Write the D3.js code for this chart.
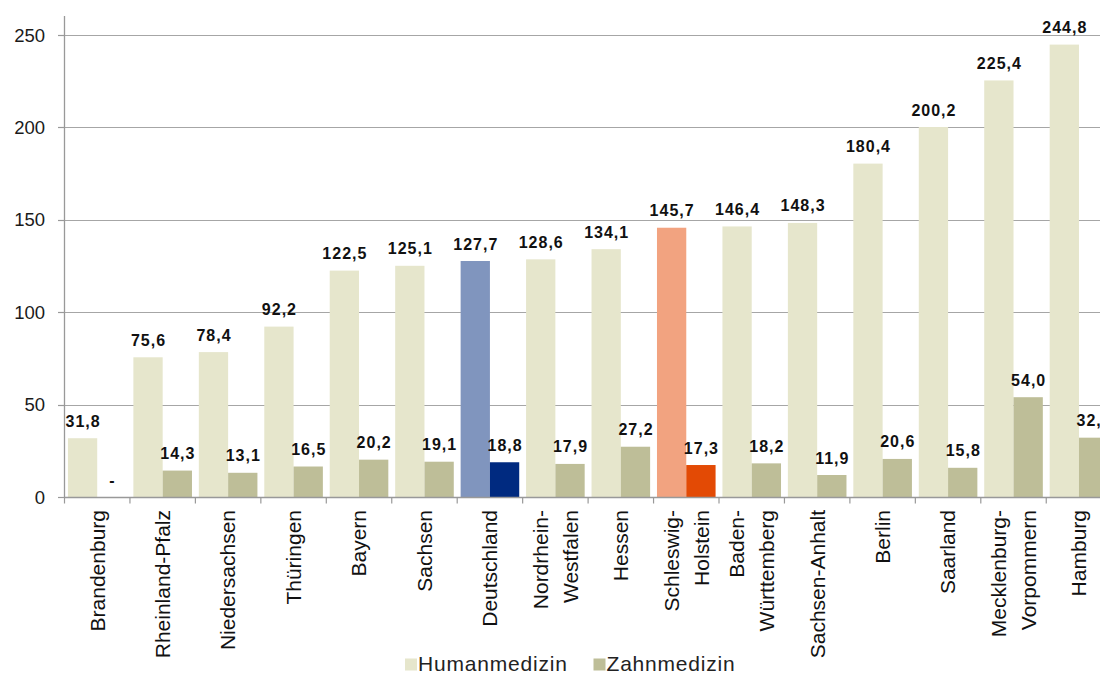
<!DOCTYPE html>
<html>
<head>
<meta charset="utf-8">
<script src="https://cdn.jsdelivr.net/npm/d3@7"></script>
<style>
  html, body { margin: 0; padding: 0; background: #fff; }
  svg { display: block; font-family: "Liberation Sans", Arial, sans-serif; }
</style>
</head>
<body>
<svg id="chart" width="1100" height="673"></svg>
<script>
const categories = [
  "Brandenburg", "Rheinland-Pfalz", "Niedersachsen", "Thüringen", "Bayern", "Sachsen",
  "Deutschland", "Nordrhein-\nWestfalen", "Hessen", "Schleswig-\nHolstein", "Baden-\nWürttemberg",
  "Sachsen-Anhalt", "Berlin", "Saarland", "Mecklenburg-\nVorpommern", "Hamburg"
];
const humanmedizin = [31.8, 75.6, 78.4, 92.2, 122.5, 125.1, 127.7, 128.6, 134.1, 145.7, 146.4, 148.3, 180.4, 200.2, 225.4, 244.8];
const zahnmedizin  = [null, 14.3, 13.1, 16.5, 20.2, 19.1, 18.8, 17.9, 27.2, 17.3, 18.2, 11.9, 20.6, 15.8, 54.0, 32.1];
const yTicks = [0, 50, 100, 150, 200, 250];
const seriesNames = ["Humanmedizin", "Zahnmedizin"];

const colors = {
  human: "#E6E6CC", zahn: "#BEBE98",
  deHuman: "#8095BE", deZahn: "#002A80",
  shHuman: "#F2A380", shZahn: "#E34A05"
};

const svg = d3.select("#chart");
const fmt = v => v == null ? "-" : v.toFixed(1).replace(".", ",");

const x0 = 64.5, step = 65.45;
const x = d3.scaleBand().domain(categories).range([x0, x0 + step * categories.length]).padding(0);
const xs = d3.scaleBand().domain(["h", "z"]).range([0, x.bandwidth()]).paddingInner(0).paddingOuter(0.117);
const y = d3.scaleLinear().domain([0, 260]).range([497, 16.5]);

// gridlines
svg.append("g").selectAll("line").data(yTicks.filter(d => d > 0)).join("line")
  .attr("x1", x0).attr("x2", 1100)
  .attr("y1", d => Math.round(y(d)) + 0.5).attr("y2", d => Math.round(y(d)) + 0.5)
  .attr("stroke", "#A6A6A6").attr("stroke-width", 1.2);

const data = categories.map((c, i) => ({c, i, h: humanmedizin[i], z: zahnmedizin[i]}));
const hColor = d => d.c === "Deutschland" ? colors.deHuman : d.c.startsWith("Schleswig") ? colors.shHuman : colors.human;
const zColor = d => d.c === "Deutschland" ? colors.deZahn : d.c.startsWith("Schleswig") ? colors.shZahn : colors.zahn;

const g = svg.append("g");
g.selectAll("rect.h").data(data).join("rect").attr("class", "h")
  .attr("x", d => x(d.c) + xs("h")).attr("width", xs.bandwidth())
  .attr("y", d => y(d.h)).attr("height", d => y(0) - y(d.h))
  .attr("fill", hColor);
g.selectAll("rect.z").data(data.filter(d => d.z != null)).join("rect").attr("class", "z")
  .attr("x", d => x(d.c) + xs("z")).attr("width", xs.bandwidth())
  .attr("y", d => y(d.z)).attr("height", d => y(0) - y(d.z))
  .attr("fill", zColor);

// value labels
const lab = svg.append("g").attr("font-size", 16).attr("font-weight", "bold").attr("fill", "#111")
  .attr("text-anchor", "middle").attr("letter-spacing", 1);
lab.selectAll("text.h").data(data).join("text")
  .attr("x", d => x(d.c) + xs("h") + xs.bandwidth() / 2 + 0.5)
  .attr("y", d => y(d.h) - 11.5).text(d => fmt(d.h));
lab.selectAll("text.z").data(data).join("text")
  .attr("x", d => x(d.c) + xs("z") + xs.bandwidth() / 2 + 0.5)
  .attr("y", d => y(d.z == null ? 0 : d.z) - 11.5).text(d => fmt(d.z));

// y axis
const yAxis = svg.append("g");
yAxis.append("line").attr("x1", x0).attr("x2", x0).attr("y1", 16).attr("y2", 497)
  .attr("stroke", "#999").attr("stroke-width", 1.3);
yAxis.selectAll("line.t").data(yTicks).join("line").attr("class", "t")
  .attr("x1", 58).attr("x2", x0).attr("y1", d => Math.round(y(d)) + 0.5).attr("y2", d => Math.round(y(d)) + 0.5)
  .attr("stroke", "#999").attr("stroke-width", 1.2);
yAxis.selectAll("text").data(yTicks).join("text")
  .attr("x", 45).attr("y", d => y(d)).attr("dy", "0.36em")
  .attr("text-anchor", "end").attr("font-size", 18.5).attr("fill", "#1a1a1a").text(d => d);

// x axis
const xAxis = svg.append("g");
xAxis.append("line").attr("x1", x0).attr("x2", 1100).attr("y1", 497.5).attr("y2", 497.5)
  .attr("stroke", "#999").attr("stroke-width", 1.3);
const bounds = d3.range(categories.length + 1).map(i => x0 + i * x.step());
xAxis.selectAll("line.t").data(bounds).join("line").attr("class", "t")
  .attr("x1", d => d).attr("x2", d => d).attr("y1", 497).attr("y2", 503.5)
  .attr("stroke", "#999").attr("stroke-width", 1.2);

const cl = xAxis.selectAll("text").data(categories).join("text")
  .attr("transform", d => `translate(${x(d) + x.bandwidth() / 2},510) rotate(-90)`)
  .attr("text-anchor", "end").attr("font-size", 21).attr("fill", "#111");
cl.each(function(d) {
  const lines = d.split("\n");
  const t = d3.select(this);
  lines.forEach((ln, k) => {
    const off = lines.length === 1 ? 0.35 : (k === 0 ? 0.35 - 0.71 : 0.35 + 0.71);
    t.append("tspan").attr("x", 0).attr("y", 0).attr("dy", off + "em").text(ln);
  });
});

// legend
const legend = svg.append("g").attr("font-size", 21).attr("fill", "#222").attr("letter-spacing", 0.8);
const legItems = [{name: seriesNames[0], color: colors.human, x: 405}, {name: seriesNames[1], color: colors.zahn, x: 593.5}];
legItems.forEach(it => {
  legend.append("rect").attr("x", it.x).attr("y", 658.5).attr("width", 12).attr("height", 12).attr("fill", it.color);
  legend.append("text").attr("x", it.x + 13).attr("y", 670.5).text(it.name);
});
</script>
</body>
</html>
